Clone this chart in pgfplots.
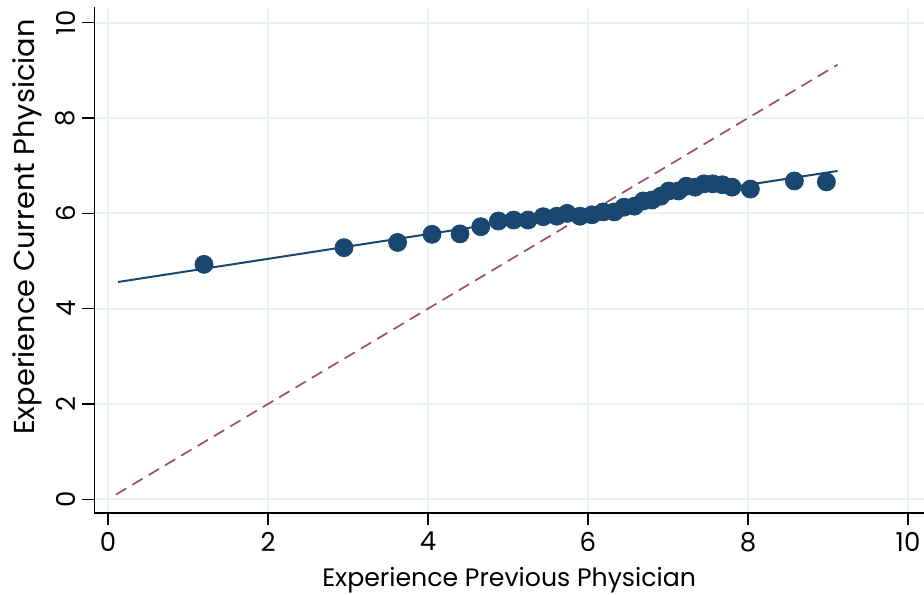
\documentclass[border=0pt]{standalone}
\usepackage{pgfplots}
\pgfplotsset{compat=1.18}
\usepackage{fontspec}
\setmainfont{Poppins}
\definecolor{navy}{HTML}{1A476F}
\definecolor{dmaroon}{HTML}{A0505A}
\definecolor{gridc}{HTML}{EAF2F3}
\begin{document}
\begin{tikzpicture}
\begin{axis}[
  at={(0,0)}, anchor=south west,
  width=414.85bp, height=253bp, scale only axis,
  xmin=-0.171, xmax=10.2, ymin=-0.287, ymax=10.33,
  axis lines*=left,
  axis line style={black, line width=0.6pt, -},
  xtick={0,2,...,10}, ytick={0,2,...,10},
  tick style={black, line width=0.6pt},
  tick align=outside, major tick length=6bp,
  grid=major, major grid style={gridc, line width=1bp},
  /pgf/number format/assume math mode=true,
  ticklabel style={font=\fontsize{13bp}{15bp}\selectfont, text=black},
  y tick label style={rotate=90, anchor=south},
  label style={font=\fontsize{12.6bp}{15bp}\selectfont},
  xlabel={Experience Previous Physician},
  ylabel={Experience Current Physician},
  xlabel style={yshift=-1bp},
  ylabel style={font=\fontsize{14.4bp}{16bp}\selectfont, at={(ticklabel cs:0.565)}},
  clip=false,
]
\addplot[only marks, mark=*, mark size=4.5bp, mark options={fill=navy, draw=navy}] coordinates {
(1.20,4.93) (2.95,5.28) (3.62,5.39) (4.05,5.56) (4.40,5.57) (4.66,5.72)
(4.88,5.84) (5.07,5.86) (5.25,5.86) (5.44,5.93) (5.61,5.94) (5.74,6.00)
(5.90,5.94) (6.05,5.97) (6.19,6.03) (6.33,6.03) (6.45,6.13) (6.58,6.15)
(6.69,6.26) (6.80,6.28) (6.91,6.36) (7.01,6.47) (7.13,6.47) (7.23,6.57)
(7.34,6.55) (7.45,6.62) (7.56,6.62) (7.68,6.60) (7.80,6.55) (8.03,6.51)
(8.58,6.68) (8.98,6.66)
};
\addplot[navy, line width=1bp] coordinates {(0.125,4.56) (9.12,6.89)};
\addplot[dmaroon, line width=0.85bp, dash pattern=on 6bp off 3.5bp] coordinates {(0.1,0.1) (9.12,9.12)};
\end{axis}
\pgfresetboundingbox
\useasboundingbox (-47.15bp,-41bp) rectangle (414.85bp,256.5bp);
\end{tikzpicture}
\end{document}
